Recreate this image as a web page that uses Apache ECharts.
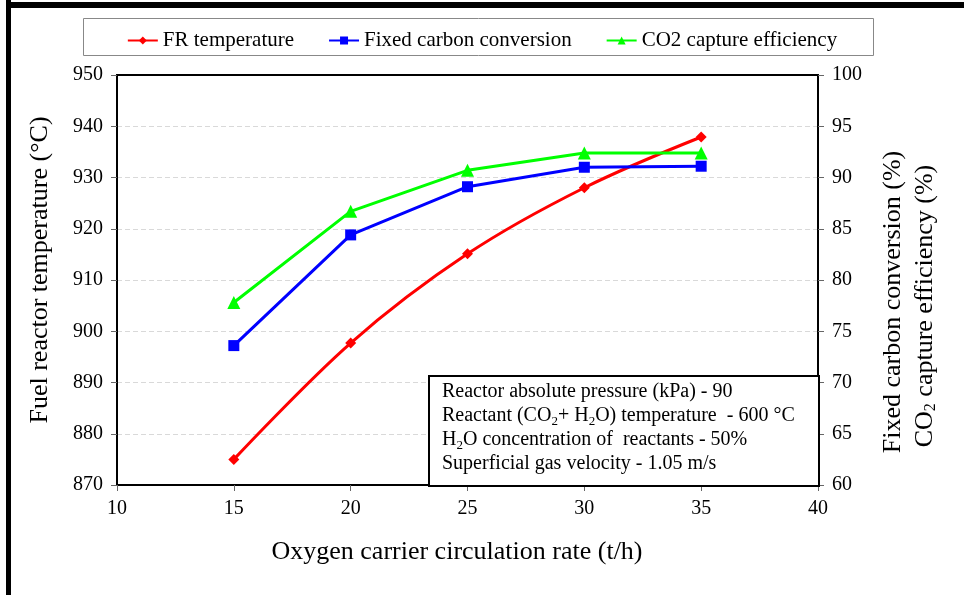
<!DOCTYPE html>
<html>
<head>
<meta charset="utf-8">
<script src="https://cdn.jsdelivr.net/npm/echarts@6/dist/echarts.min.js"></script>
<style>
  html, body { margin: 0; padding: 0; background: #fff; }
  #chart { width: 964px; height: 595px; }
</style>
</head>
<body>
<div id="chart"></div>
<script>
  // circulation rate (t/h)
  const rates = [15, 20, 25, 30, 35];
  // values
  const frTemperature = [875, 897.7, 915.1, 928, 937.9];
  const carbonConversion = [73.6, 84.4, 89.1, 91.0, 91.1];
  const captureEfficiency = [77.8, 86.7, 90.7, 92.4, 92.4];

  const serif = '"Liberation Serif", "Times New Roman", serif';

  const pairs = (xs, ys) => xs.map((x, i) => [x, ys[i]]);

  const chart = echarts.init(document.getElementById('chart'));

  const tickLabel = { fontFamily: serif, fontSize: 20, color: '#000', margin: 14 };
  const tick = { show: true, length: 6, lineStyle: { color: '#666' } };

  const option = {
    backgroundColor: '#fff',
    animation: false,
    textStyle: { fontFamily: serif, color: '#000' },
    legend: {
      top: 25,
      left: 'center',
      itemGap: 34,
      itemWidth: 30,
      itemHeight: 10,
      textStyle: { fontFamily: serif, fontSize: 21, color: '#000' },
      data: ['FR temperature', 'Fixed carbon conversion', 'CO2 capture efficiency'],
    },
    grid: {
      left: 117,
      right: 146,
      top: 75,
      bottom: 110,
      show: true,
      borderColor: '#000',
      borderWidth: 2,
    },
    xAxis: {
      type: 'value',
      min: 10,
      max: 40,
      interval: 5,
      splitLine: { show: false },
      axisLine: { lineStyle: { color: '#000', width: 2 } },
      axisTick: tick,
      axisLabel: tickLabel,
    },
    yAxis: [
      {
        type: 'value',
        min: 870,
        max: 950,
        interval: 10,
        axisLine: { show: true, lineStyle: { color: '#000', width: 2 } },
        axisTick: tick,
        axisLabel: tickLabel,
        splitLine: { showMinLine: false, showMaxLine: false, lineStyle: { color: '#d9d9d9', type: [5, 3] } },
      },
      {
        type: 'value',
        min: 60,
        max: 100,
        interval: 5,
        position: 'right',
        axisLine: { show: true, lineStyle: { color: '#000', width: 2 } },
        axisTick: tick,
        axisLabel: tickLabel,
        splitLine: { show: false },
      },
    ],
    series: [
      {
        name: 'FR temperature',
        type: 'line',
        yAxisIndex: 0,
        smooth: 0.35,
        data: pairs(rates, frTemperature),
        symbol: 'diamond',
        symbolSize: 11,
        lineStyle: { color: '#ff0000', width: 3 },
        itemStyle: { color: '#ff0000' },
      },
      {
        name: 'Fixed carbon conversion',
        type: 'line',
        yAxisIndex: 1,
        data: pairs(rates, carbonConversion),
        symbol: 'rect',
        symbolSize: 11,
        lineStyle: { color: '#0000ff', width: 3 },
        itemStyle: { color: '#0000ff' },
      },
      {
        name: 'CO2 capture efficiency',
        type: 'line',
        yAxisIndex: 1,
        data: pairs(rates, captureEfficiency),
        symbol: 'triangle',
        symbolSize: 13,
        lineStyle: { color: '#00ff00', width: 3 },
        itemStyle: { color: '#00ff00' },
      },
    ],
    graphic: [
      // outer frame (left and top bars)
      { type: 'rect', left: 6, top: 0, shape: { width: 5, height: 595 }, style: { fill: '#000' } },
      { type: 'rect', left: 6, top: 2, shape: { width: 958, height: 6 }, style: { fill: '#000' } },
      // legend box
      { type: 'rect', left: 83, top: 18, z: -1, shape: { width: 790, height: 37 }, style: { fill: '#fff', stroke: '#888', lineWidth: 1 } },
      // axis titles
      {
        type: 'text', x: 40, y: 270, rotation: Math.PI / 2, z: 10,
        style: { text: 'Fuel reactor temperature (°C)', font: '26px ' + serif, fill: '#000', align: 'center', verticalAlign: 'middle' },
      },
      {
        type: 'text', x: 457, y: 552, z: 10,
        style: { text: 'Oxygen carrier circulation rate (t/h)', font: '26px ' + serif, fill: '#000', align: 'center', verticalAlign: 'middle' },
      },
      {
        type: 'text', x: 893, y: 302, rotation: Math.PI / 2, z: 10,
        style: { text: 'Fixed carbon conversion (%)', font: '26px ' + serif, fill: '#000', align: 'center', verticalAlign: 'middle' },
      },
      {
        type: 'text', x: 925, y: 306, rotation: Math.PI / 2, z: 10,
        style: {
          text: '{n|CO}{s|2}{n| capture efficiency (%)}',
          align: 'center', verticalAlign: 'middle',
          rich: {
            n: { font: '26px ' + serif, color: '#000' },
            s: { font: '16px ' + serif, color: '#000', padding: [12, 0, 0, 0] },
          },
        },
      },
      // conditions box
      {
        type: 'rect', left: 428, top: 375, z: 20,
        shape: { width: 390, height: 110 },
        style: { fill: '#fff', stroke: '#000', lineWidth: 2 },
      },
      {
        type: 'text', left: 442, top: 380, z: 21,
        style: {
          text: [
            '{n|Reactor absolute pressure (kPa) - 90}',
            '{n|Reactant (CO}{s|2}{n|+ H}{s|2}{n|O) temperature  - 600 °C}',
            '{n|H}{s|2}{n|O concentration of  reactants - 50%}',
            '{n|Superficial gas velocity - 1.05 m/s}',
          ].join('\n'),
          rich: {
            n: { font: '20px ' + serif, color: '#000', lineHeight: 24, height: 24 },
            s: { font: '13px ' + serif, color: '#000', lineHeight: 24, height: 24, padding: [12, 0, 0, 0] },
          },
        },
      },
    ],
  };

  chart.setOption(option);
</script>
</body>
</html>
